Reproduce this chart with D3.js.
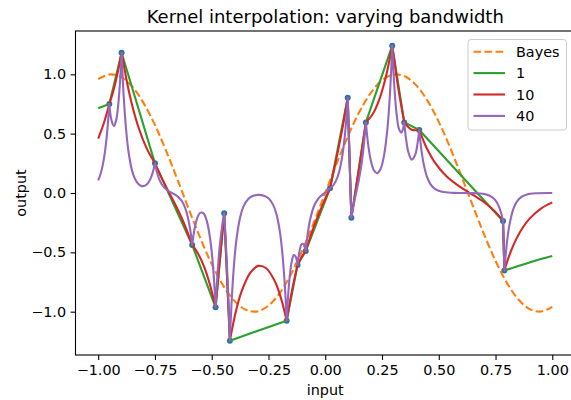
<!DOCTYPE html>
<html>
<head>
<meta charset="utf-8">
<script src="https://cdn.jsdelivr.net/npm/d3@7"></script>
<style>
  body { margin: 0; background: #fff; }
  text { font-family: "DejaVu Sans", sans-serif; fill: #000; }
</style>
</head>
<body>
<svg id="chart" width="571" height="400"></svg>
<script>
// Training samples (blue dots)
var pointX = [-0.951, -0.897, -0.750, -0.586, -0.483, -0.445, -0.420, -0.170, -0.122, -0.086,
              0.021, 0.099, 0.115, 0.179, 0.295, 0.348, 0.414, 0.783, 0.789];
var pointY = [0.750, 1.182, 0.250, -0.438, -0.963, -0.171, -1.244, -1.076, -0.607, -0.489,
              0.040, 0.803, -0.208, 0.595, 1.241, 0.595, 0.531, -0.236, -0.654];

// Bayes curve (orange dashed)
var bayesX = [-1.00, -0.95, -0.90, -0.85, -0.80, -0.75, -0.70, -0.65, -0.60, -0.55, -0.50,
              -0.45, -0.40, -0.35, -0.30, -0.25, -0.20, -0.15, -0.10, -0.05, 0.00,
              0.05, 0.10, 0.15, 0.20, 0.25, 0.30, 0.35, 0.40, 0.45, 0.50,
              0.55, 0.60, 0.65, 0.70, 0.75, 0.80, 0.85, 0.90, 0.95, 1.00];
var bayesY = [0.959, 0.999, 0.978, 0.895, 0.757, 0.572, 0.351, 0.108, -0.141, -0.382, -0.599,
              -0.778, -0.909, -0.984, -0.998, -0.949, -0.842, -0.682, -0.479, -0.247, 0.000,
              0.247, 0.479, 0.682, 0.842, 0.949, 0.998, 0.984, 0.909, 0.778, 0.599,
              0.382, 0.141, -0.108, -0.351, -0.572, -0.757, -0.895, -0.978, -0.999, -0.959];

// bandwidth 1 (green)
var greenX = [-1.000, -0.951, -0.897, -0.750, -0.586, -0.483, -0.445, -0.420, -0.170, -0.122, -0.086,
              0.021, 0.099, 0.115, 0.179, 0.295, 0.348, 0.414, 0.783, 0.789, 0.850, 0.900, 0.950, 1.000];
var greenY = [0.714, 0.750, 1.182, 0.250, -0.438, -0.963, -0.171, -1.244, -1.076, -0.607, -0.489,
              0.040, 0.803, -0.208, 0.595, 1.241, 0.595, 0.531, -0.236, -0.654, -0.615, -0.585, -0.557, -0.530];

// bandwidth 10 (red)
var redX = [-1.000, -0.975, -0.951, -0.9375, -0.924, -0.9105, -0.897, -0.860, -0.8235, -0.787, -0.750,
            -0.709, -0.668, -0.627, -0.586, -0.560, -0.5345, -0.509, -0.483, -0.464, -0.445, -0.4325,
            -0.420, -0.395, -0.370, -0.330, -0.295, -0.260, -0.220, -0.195, -0.170, -0.146, -0.122,
            -0.104, -0.086, -0.059, -0.0325, -0.006, 0.021, 0.0405, 0.060, 0.0795, 0.099, 0.107,
            0.115, 0.147, 0.179, 0.208, 0.237, 0.266, 0.295, 0.3215, 0.348, 0.381, 0.414, 0.444,
            0.484, 0.534, 0.594, 0.654, 0.704, 0.744, 0.769, 0.783, 0.789, 0.795, 0.805, 0.820,
            0.840, 0.870, 0.900, 0.950, 1.000];
var redY = [0.459, 0.590, 0.750, 0.833, 0.932, 1.048, 1.182, 0.815, 0.558, 0.378, 0.250,
            0.083, -0.069, -0.234, -0.438, -0.511, -0.617, -0.765, -0.963, -0.557, -0.171, -0.702,
            -1.244, -1.010, -0.838, -0.671, -0.614, -0.634, -0.752, -0.886, -1.076, -0.818, -0.607,
            -0.539, -0.489, -0.331, -0.196, -0.075, 0.040, 0.212, 0.391, 0.586, 0.803, 0.297,
            -0.208, 0.184, 0.595, 0.661, 0.783, 0.971, 1.241, 0.886, 0.595, 0.533, 0.531, 0.390,
            0.254, 0.141, 0.051, -0.020, -0.084, -0.149, -0.201, -0.236, -0.654, -0.616, -0.557, -0.480,
            -0.393, -0.291, -0.216, -0.131, -0.079];

// bandwidth 40 (purple)
var purpleX = [-1.000, -0.990, -0.980, -0.970, -0.960, -0.951, -0.941, -0.931, -0.921, -0.911, -0.904,
               -0.897, -0.892, -0.887, -0.877, -0.867, -0.852, -0.837, -0.822, -0.807, -0.792, -0.780,
               -0.770, -0.760, -0.755, -0.750, -0.745, -0.740, -0.730, -0.715, -0.700, -0.680, -0.660,
               -0.646, -0.631, -0.616, -0.606, -0.596, -0.591, -0.586, -0.581, -0.576, -0.566, -0.551,
               -0.536, -0.521, -0.506, -0.496, -0.489, -0.483, -0.4735, -0.464, -0.4545, -0.445,
               -0.43875, -0.4325, -0.42625, -0.420, -0.417, -0.4125, -0.4075, -0.400, -0.390, -0.375,
               -0.360, -0.340, -0.320, -0.295, -0.270, -0.250, -0.230, -0.215, -0.200, -0.190, -0.1825,
               -0.1775, -0.173, -0.170, -0.162, -0.154, -0.146, -0.138, -0.130, -0.122, -0.113, -0.104,
               -0.095, -0.086, -0.081, -0.076, -0.066, -0.051, -0.036, -0.021, -0.006, 0.009, 0.021,
               0.031, 0.046, 0.061, 0.076, 0.086, 0.093, 0.099, 0.107, 0.115, 0.131, 0.147, 0.163,
               0.179, 0.184, 0.189, 0.199, 0.214, 0.229, 0.244, 0.259, 0.274, 0.284, 0.290, 0.295,
               0.300, 0.307, 0.315, 0.325, 0.335, 0.342, 0.348, 0.356, 0.366, 0.381, 0.396, 0.406,
               0.414, 0.419, 0.424, 0.434, 0.449, 0.464, 0.484, 0.514, 0.564, 0.633, 0.683, 0.713,
               0.733, 0.748, 0.763, 0.773, 0.778, 0.783, 0.789, 0.791, 0.794, 0.799, 0.804, 0.809,
               0.819, 0.829, 0.844, 0.864, 0.889, 0.929, 1.000];
var purpleY = [0.106, 0.158, 0.235, 0.351, 0.523, 0.750, 0.608, 0.564, 0.612, 0.760, 0.934,
               1.182, 0.968, 0.792, 0.531, 0.356, 0.195, 0.115, 0.073, 0.058, 0.064, 0.086,
               0.119, 0.172, 0.208, 0.250, 0.205, 0.168, 0.111, 0.059, 0.029, 0.005, -0.016,
               -0.036, -0.070, -0.131, -0.197, -0.294, -0.359, -0.438, -0.365, -0.306, -0.224, -0.167,
               -0.172, -0.241, -0.398, -0.580, -0.761, -0.963, -0.652, -0.435, -0.283, -0.171,
               -0.387, -0.627, -0.907, -1.244, -1.103, -0.922, -0.755, -0.559, -0.375, -0.206,
               -0.113, -0.052, -0.026, -0.016, -0.023, -0.045, -0.098, -0.178, -0.324, -0.484, -0.653,
               -0.797, -0.954, -1.076, -0.825, -0.660, -0.562, -0.523, -0.537, -0.607, -0.486, -0.430,
               -0.431, -0.489, -0.400, -0.327, -0.219, -0.118, -0.062, -0.028, -0.004, 0.018, 0.040,
               0.056, 0.098, 0.177, 0.321, 0.478, 0.632, 0.803, 0.283, -0.208, -0.045, 0.100, 0.287,
               0.595, 0.492, 0.409, 0.289, 0.192, 0.167, 0.204, 0.317, 0.546, 0.805, 1.019, 1.241,
               1.038, 0.822, 0.654, 0.538, 0.509, 0.537, 0.595, 0.455, 0.345, 0.281, 0.321, 0.412,
               0.531, 0.435, 0.356, 0.239, 0.131, 0.072, 0.032, 0.010, 0.001, -0.001, -0.004, -0.014,
               -0.032, -0.058, -0.106, -0.158, -0.193, -0.236, -0.654, -0.604, -0.535, -0.438, -0.359, -0.294,
               -0.197, -0.132, -0.073, -0.033, -0.012, -0.002, 0.000];

var xTicks = [-1, -0.75, -0.5, -0.25, 0, 0.25, 0.5, 0.75, 1];
var yTicks = [-1, -0.5, 0, 0.5, 1];
var legendNames = ["Bayes", "1", "10", "40"];
var legendColors = ["#ff7f0e", "#2ca02c", "#d62728", "#9467bd"];

var svg = d3.select("#chart");

// Axes box (right edge runs off the picture, as in the original)
var boxLeft = 75.5, boxRight = 575, boxTop = 31, boxBottom = 355;

var x = d3.scaleLinear().domain([-1.1, 1.1]).range([boxLeft, boxRight]);
var y = d3.scaleLinear().domain([-1.365, 1.365]).range([boxBottom, boxTop]);

// Build one path per series, split at the sample points so the cusps stay sharp
function kernelPath(xs, ys) {
  var knots = new Set(pointX);
  var segs = [], cur = [];
  for (var i = 0; i < xs.length; i++) {
    cur.push([xs[i], ys[i]]);
    if (knots.has(xs[i]) && cur.length > 1) {
      segs.push(cur);
      cur = [[xs[i], ys[i]]];
    }
  }
  if (cur.length > 1) segs.push(cur);

  var line = d3.line()
      .x(function(d) { return x(d[0]); })
      .y(function(d) { return y(d[1]); })
      .curve(d3.curveCatmullRom.alpha(0.5));

  var d = "";
  segs.forEach(function(seg, k) {
    var s = line(seg);
    if (k > 0) s = "L" + s.slice(1);
    d += s;
  });
  return d;
}

var plot = svg.append("g");

// scatter of samples (drawn under the lines)
plot.selectAll("circle")
    .data(pointX)
  .enter().append("circle")
    .attr("cx", function(d) { return x(d); })
    .attr("cy", function(d, i) { return y(pointY[i]); })
    .attr("r", 3)
    .attr("fill", "#1f77b4");

// Bayes
var bayesLine = d3.line()
    .x(function(d, i) { return x(bayesX[i]); })
    .y(function(d) { return y(d); })
    .curve(d3.curveCatmullRom);

plot.append("path")
    .attr("d", bayesLine(bayesY))
    .attr("fill", "none")
    .attr("stroke", legendColors[0])
    .attr("stroke-width", 2.1)
    .attr("stroke-dasharray", "7.7,3.3");

plot.append("path")
    .attr("d", kernelPath(greenX, greenY))
    .attr("fill", "none").attr("stroke", legendColors[1])
    .attr("stroke-width", 2.1).attr("stroke-linejoin", "round");

plot.append("path")
    .attr("d", kernelPath(redX, redY))
    .attr("fill", "none").attr("stroke", legendColors[2])
    .attr("stroke-width", 2.1).attr("stroke-linejoin", "round");

plot.append("path")
    .attr("d", kernelPath(purpleX, purpleY))
    .attr("fill", "none").attr("stroke", legendColors[3])
    .attr("stroke-width", 2.1).attr("stroke-linejoin", "round");

// Spines
svg.append("rect")
    .attr("x", boxLeft).attr("y", boxTop)
    .attr("width", boxRight - boxLeft).attr("height", boxBottom - boxTop)
    .attr("fill", "none").attr("stroke", "#000").attr("stroke-width", 1.1);

// X axis
var xAxis = d3.axisBottom(x).tickValues(xTicks).tickFormat(d3.format(".2f")).tickSize(4.9).tickPadding(4.5);
var gx = svg.append("g").attr("transform", "translate(0," + boxBottom + ")").call(xAxis);
gx.select(".domain").remove();
gx.selectAll("line").attr("stroke", "#000").attr("stroke-width", 1.1);
gx.selectAll("text").style("font-size", "14.4px").style("font-family", "DejaVu Sans");

// Y axis
var yAxis = d3.axisLeft(y).tickValues(yTicks).tickFormat(d3.format(".1f")).tickSize(4.9).tickPadding(4.5);
var gy = svg.append("g").attr("transform", "translate(" + boxLeft + ",0)").call(yAxis);
gy.select(".domain").remove();
gy.selectAll("line").attr("stroke", "#000").attr("stroke-width", 1.1);
gy.selectAll("text").style("font-size", "14.4px").style("font-family", "DejaVu Sans");

// Labels and title
svg.append("text")
    .attr("x", (boxLeft + boxRight) / 2).attr("y", 395)
    .attr("text-anchor", "middle").style("font-size", "14.4px")
    .text("input");

svg.append("text")
    .attr("transform", "translate(25.5," + (boxTop + boxBottom) / 2 + ") rotate(-90)")
    .attr("text-anchor", "middle").style("font-size", "14.4px")
    .text("output");

svg.append("text")
    .attr("x", (boxLeft + boxRight) / 2).attr("y", 23)
    .attr("text-anchor", "middle").style("font-size", "18px")
    .text("Kernel interpolation: varying bandwidth");

// Legend
var legend = svg.append("g");
legend.append("rect")
    .attr("x", 468).attr("y", 39.5).attr("width", 98.5).attr("height", 90.5)
    .attr("rx", 3).attr("fill", "#fff").attr("fill-opacity", 0.8)
    .attr("stroke", "#cccccc").attr("stroke-width", 1);

legendNames.forEach(function(name, i) {
  var ly = 51.7 + i * 21.4;
  legend.append("line")
      .attr("x1", 473.5).attr("x2", 505).attr("y1", ly).attr("y2", ly)
      .attr("stroke", legendColors[i]).attr("stroke-width", 2.1)
      .attr("stroke-dasharray", i == 0 ? "7.7,3.3" : null);
  legend.append("text")
      .attr("x", 516).attr("y", ly + 5)
      .style("font-size", "14.4px")
      .text(name);
});
</script>
</body>
</html>
